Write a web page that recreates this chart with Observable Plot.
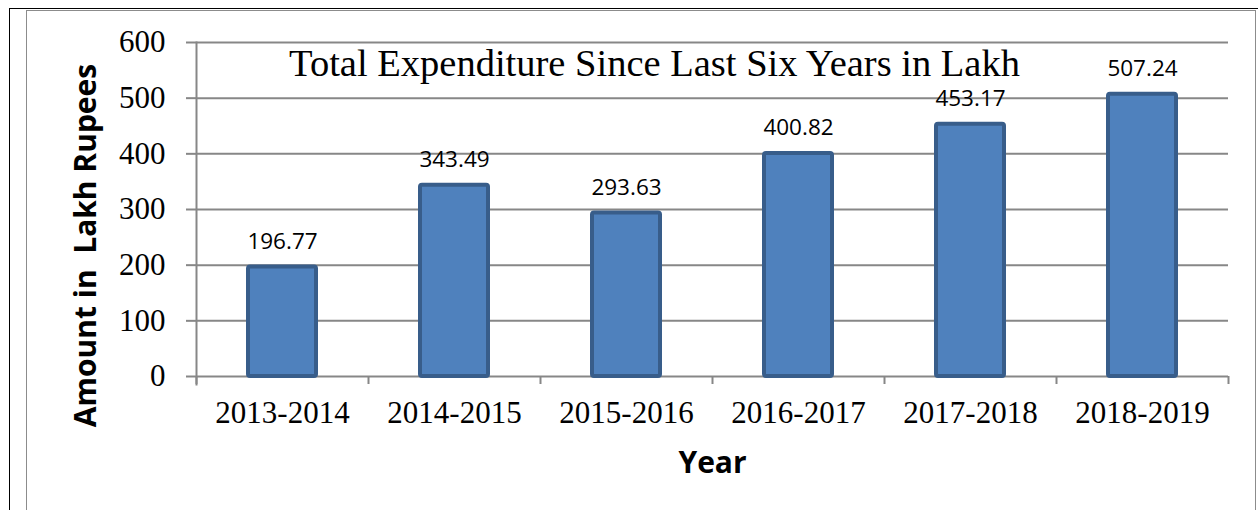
<!DOCTYPE html>
<html>
<head>
<meta charset="utf-8">
<script src="https://cdn.jsdelivr.net/npm/d3@7"></script>
<script src="https://cdn.jsdelivr.net/npm/@observablehq/plot@0.6"></script>
<style>
  html, body { margin: 0; padding: 0; background: #fff; }
  #wrap { position: relative; width: 1258px; height: 510px; overflow: hidden; }
  #chart { position: absolute; left: 0; top: 0; }
  #chart svg text { white-space: pre; }
  .pageborder { position: absolute; left: 9px; top: 8px; width: 1260px; height: 520px;
    border-left: 1px solid #000; border-top: 1px solid #000; pointer-events: none; }
  .chartborder { position: absolute; left: 26px; top: 10px; width: 1228px; height: 520px;
    border: 1px solid #8c8c8c; pointer-events: none; }
</style>
</head>
<body>
<div id="wrap">
  <div id="chart"></div>
  <div class="pageborder"></div>
  <div class="chartborder"></div>
</div>
<script>
const categories = ["2013-2014", "2014-2015", "2015-2016", "2016-2017", "2017-2018", "2018-2019"];
const values = [196.77, 343.49, 293.63, 400.82, 453.17, 507.24];
const yTicks = [0, 100, 200, 300, 400, 500, 600];
const chartTitle = "Total Expenditure Since Last Six Years in Lakh";
const xTitle = "Year";
const yTitle = "Amount in  Lakh Rupees";

const data = categories.map((c, i) => ({year: c, value: values[i]}));

const W = 1258, H = 510, mL = 196, mR = 30, mT = 42, mB = 134;
const step = (W - mL - mR) / categories.length;
const gray = "#878787";
const serif = "Liberation Serif";
const sans = "Open Sans";

const chart = Plot.plot({
  width: W, height: H,
  marginLeft: mL, marginRight: mR, marginTop: mT, marginBottom: mB,
  style: {fontFamily: serif, background: "transparent", color: "#000"},
  x: {domain: categories, padding: 0, label: null},
  y: {domain: [0, 600], label: null},
  marks: [
    Plot.gridY(yTicks, {stroke: gray, strokeOpacity: 1, strokeWidth: 2}),
    Plot.frame({anchor: "left", stroke: gray, strokeWidth: 2, insetBottom: -8}),
    Plot.axisY(yTicks, {tickSize: 10, tickPadding: 21, fontSize: 31, fontFamily: serif,
      stroke: gray, strokeWidth: 2, fill: "#000", label: null}),
    Plot.axisX({tickSize: 0, tickPadding: 24, fontSize: 31, fontFamily: serif, fill: "#000", label: null}),
    Plot.axisX(categories, {tickSize: 8, tickFormat: () => "", dx: -step / 2, stroke: gray, strokeWidth: 2, label: null}),
    Plot.axisX([categories[categories.length - 1]], {tickSize: 8, tickFormat: () => "", dx: step / 2, stroke: gray, strokeWidth: 2, label: null}),
    Plot.barY(data, {x: "year", y: "value", fill: "#4f81bd", stroke: "#385d8a", strokeWidth: 4,
      insetLeft: 52, insetRight: 52, rx: 2}),
    Plot.text(data, {x: "year", y: "value", text: d => d.value.toFixed(2), lineAnchor: "bottom", dy: -18,
      fontSize: 22.5, fontFamily: sans, fill: "#000"}),
    Plot.text([chartTitle], {frameAnchor: "top", lineAnchor: "bottom", dy: 33, dx: -58,
      fontSize: 38.5, fontFamily: serif, fill: "#000"}),
    Plot.text([xTitle], {frameAnchor: "bottom", lineAnchor: "bottom", dy: 96,
      fontSize: 30, fontWeight: "bold", fontFamily: sans, fill: "#000"}),
    Plot.text([yTitle], {frameAnchor: "left", rotate: -90, textAnchor: "middle", lineAnchor: "bottom", dx: -101, dy: 36,
      fontSize: 30, fontWeight: "bold", fontFamily: sans, fill: "#000"})
  ]
});
document.getElementById("chart").appendChild(chart);
</script>
</body>
</html>
